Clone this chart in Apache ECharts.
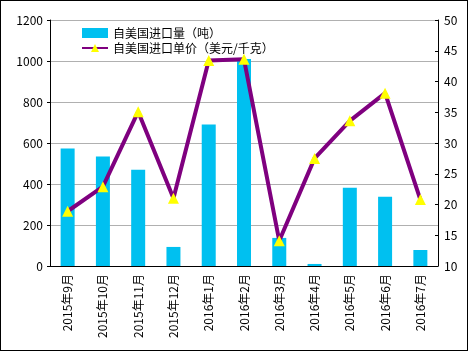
<!DOCTYPE html>
<html>
<head>
<meta charset="utf-8">
<script src="https://cdn.jsdelivr.net/npm/echarts@6/dist/echarts.min.js"></script>
<style>
  html, body { margin: 0; padding: 0; background: #fff; }
  #chart { width: 466px; height: 349px; border: 1px solid #000; }
</style>
</head>
<body>
<div id="chart"></div>
<script>
// 月份
const months = ['2015年9月', '2015年10月', '2015年11月', '2015年12月', '2016年1月', '2016年2月',
  '2016年3月', '2016年4月', '2016年5月', '2016年6月', '2016年7月']
// 自美国进口量（吨）
const volume = [573, 534, 470, 93, 690, 1010, 137, 10, 382, 338, 78]
// 自美国进口单价（美元/千克）
const price = [18.9, 22.9, 35.1, 21.0, 43.4, 43.6, 14.1, 27.5, 33.6, 38.1, 20.8]

const font = 'SimSun, "Noto Sans CJK SC", sans-serif'

const myChart = echarts.init(document.getElementById('chart'))
myChart.setOption({
  animation: false,
  textStyle: { fontFamily: font },
  grid: { left: 49, right: 29, top: 19, bottom: 84 },
  legend: {
    left: 75,
    top: 21,
    orient: 'vertical',
    itemGap: 3,
    itemWidth: 26,
    itemHeight: 10,
    textStyle: { fontSize: 12, color: '#000', fontFamily: font },
    data: [
      { name: '自美国进口量（吨）', icon: 'rect', itemStyle: { color: '#00c0f0' } },
      { name: '自美国进口单价（美元/千克）' }
    ]
  },
  xAxis: {
    type: 'category',
    data: months,
    axisLine: { lineStyle: { color: '#000' } },
    axisTick: { inside: true, length: 4, lineStyle: { color: '#000' } },
    axisLabel: { rotate: 90, color: '#000', fontSize: 12, margin: 8 }
  },
  yAxis: [
    {
      type: 'value', min: 0, max: 1200, interval: 200,
      axisLine: { show: true, lineStyle: { color: '#000' } },
      axisTick: { show: true, length: 3, lineStyle: { color: '#000' } },
      axisLabel: { color: '#000', fontSize: 12, margin: 7, formatter: v => String(v) },
      splitLine: { lineStyle: { color: '#b0b0b0' } }
    },
    {
      type: 'value', min: 10, max: 50, interval: 5,
      axisLine: { show: true, lineStyle: { color: '#000' } },
      axisTick: { show: true, inside: true, length: 3, lineStyle: { color: '#000' } },
      axisLabel: { color: '#000', fontSize: 12, margin: 6 },
      splitLine: { show: false }
    }
  ],
  series: [
    {
      name: '自美国进口量（吨）',
      type: 'bar',
      data: volume,
      barWidth: 14,
      itemStyle: { color: '#00c0f0' }
    },
    {
      name: '自美国进口单价（美元/千克）',
      type: 'line',
      yAxisIndex: 1,
      data: price,
      symbol: 'triangle',
      symbolSize: 11,
      lineStyle: { color: '#7f007f', width: 4 },
      itemStyle: { color: '#ffff00', borderWidth: 0 }
    }
  ]
})
</script>
</body>
</html>
